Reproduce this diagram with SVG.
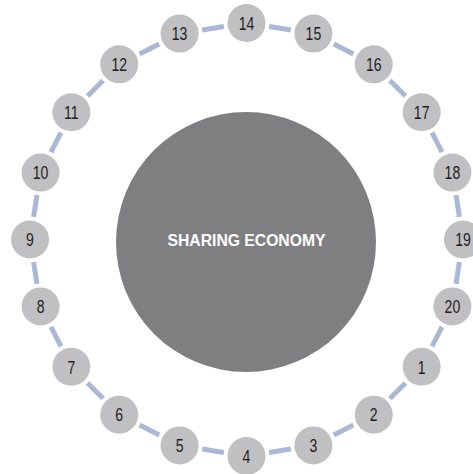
<svg xmlns="http://www.w3.org/2000/svg" width="473" height="474" viewBox="0 0 473 474">
  <style>
    .link { stroke: #abb8d5; stroke-width: 5; fill: none; }
    .node circle { fill: #c0c0c3; }
    .node text { font-family: "Liberation Sans", Arial, sans-serif; font-size: 19px; fill: #1e1e1e; text-anchor: middle; }
    .hub circle { fill: #7f7f82; }
    .hub text { font-family: "Liberation Sans", Arial, sans-serif; font-size: 16px; font-weight: bold; fill: #ffffff; text-anchor: middle; }
  </style>
  <rect width="473" height="474" fill="#ffffff"/>

  <g id="hub" class="hub">
    <circle cx="246" cy="242" r="130"/>
    <text x="246.5" y="245.7" textLength="158" lengthAdjust="spacingAndGlyphs">SHARING ECONOMY</text>
  </g>

  <g id="connectors">
    <line class="link" x1="269.09" y1="26.58" x2="290.81" y2="30.02"/>
    <line class="link" x1="333.78" y1="43.99" x2="353.38" y2="53.97"/>
    <line class="link" x1="389.92" y1="80.52" x2="405.48" y2="96.08"/>
    <line class="link" x1="432.03" y1="132.62" x2="442.01" y2="152.22"/>
    <line class="link" x1="455.98" y1="195.19" x2="459.42" y2="216.91"/>
    <line class="link" x1="459.42" y1="262.09" x2="455.98" y2="283.81"/>
    <line class="link" x1="442.01" y1="326.78" x2="432.03" y2="346.38"/>
    <line class="link" x1="405.48" y1="382.92" x2="389.92" y2="398.48"/>
    <line class="link" x1="353.38" y1="425.03" x2="333.78" y2="435.01"/>
    <line class="link" x1="290.81" y1="448.98" x2="269.09" y2="452.42"/>
    <line class="link" x1="223.91" y1="452.42" x2="202.19" y2="448.98"/>
    <line class="link" x1="159.22" y1="435.01" x2="139.62" y2="425.03"/>
    <line class="link" x1="103.08" y1="398.48" x2="87.52" y2="382.92"/>
    <line class="link" x1="60.97" y1="346.38" x2="50.99" y2="326.78"/>
    <line class="link" x1="37.02" y1="283.81" x2="33.58" y2="262.09"/>
    <line class="link" x1="33.58" y1="216.91" x2="37.02" y2="195.19"/>
    <line class="link" x1="50.99" y1="152.22" x2="60.97" y2="132.62"/>
    <line class="link" x1="87.52" y1="96.08" x2="103.08" y2="80.52"/>
    <line class="link" x1="139.62" y1="53.97" x2="159.22" y2="43.99"/>
    <line class="link" x1="202.19" y1="30.02" x2="223.91" y2="26.58"/>
  </g>

  <!-- labels use a narrowed glyph width: scale(0.74,1) around each label's anchor -->
  <g id="n14" class="node"><circle cx="246.5" cy="23" r="19"/><text transform="translate(246.5 29.8) scale(0.74 1)">14</text></g>
  <g id="n15" class="node"><circle cx="313.4" cy="33.6" r="19"/><text transform="translate(313.4 40.4) scale(0.74 1)">15</text></g>
  <g id="n16" class="node"><circle cx="373.76" cy="64.35" r="19"/><text transform="translate(373.76 71.15) scale(0.74 1)">16</text></g>
  <g id="n17" class="node"><circle cx="421.65" cy="112.24" r="19"/><text transform="translate(421.65 119.04) scale(0.74 1)">17</text></g>
  <g id="n18" class="node"><circle cx="452.4" cy="172.6" r="19"/><text transform="translate(452.4 179.4) scale(0.74 1)">18</text></g>
  <g id="n19" class="node"><circle cx="463" cy="239.5" r="19"/><text transform="translate(463 246.3) scale(0.74 1)">19</text></g>
  <g id="n20" class="node"><circle cx="452.4" cy="306.4" r="19"/><text transform="translate(452.4 313.2) scale(0.74 1)">20</text></g>
  <g id="n1" class="node"><circle cx="421.65" cy="366.76" r="19"/><text transform="translate(421.65 373.56) scale(0.74 1)">1</text></g>
  <g id="n2" class="node"><circle cx="373.76" cy="414.65" r="19"/><text transform="translate(373.76 421.45) scale(0.74 1)">2</text></g>
  <g id="n3" class="node"><circle cx="313.4" cy="445.4" r="19"/><text transform="translate(313.4 452.2) scale(0.74 1)">3</text></g>
  <g id="n4" class="node"><circle cx="246.5" cy="456" r="19"/><text transform="translate(246.5 462.8) scale(0.74 1)">4</text></g>
  <g id="n5" class="node"><circle cx="179.6" cy="445.4" r="19"/><text transform="translate(179.6 452.2) scale(0.74 1)">5</text></g>
  <g id="n6" class="node"><circle cx="119.24" cy="414.65" r="19"/><text transform="translate(119.24 421.45) scale(0.74 1)">6</text></g>
  <g id="n7" class="node"><circle cx="71.35" cy="366.76" r="19"/><text transform="translate(71.35 373.56) scale(0.74 1)">7</text></g>
  <g id="n8" class="node"><circle cx="40.6" cy="306.4" r="19"/><text transform="translate(40.6 313.2) scale(0.74 1)">8</text></g>
  <g id="n9" class="node"><circle cx="30" cy="239.5" r="19"/><text transform="translate(30 246.3) scale(0.74 1)">9</text></g>
  <g id="n10" class="node"><circle cx="40.6" cy="172.6" r="19"/><text transform="translate(40.6 179.4) scale(0.74 1)">10</text></g>
  <g id="n11" class="node"><circle cx="71.35" cy="112.24" r="19"/><text transform="translate(71.35 119.04) scale(0.74 1)">11</text></g>
  <g id="n12" class="node"><circle cx="119.24" cy="64.35" r="19"/><text transform="translate(119.24 71.15) scale(0.74 1)">12</text></g>
  <g id="n13" class="node"><circle cx="179.6" cy="33.6" r="19"/><text transform="translate(179.6 40.4) scale(0.74 1)">13</text></g>
</svg>
